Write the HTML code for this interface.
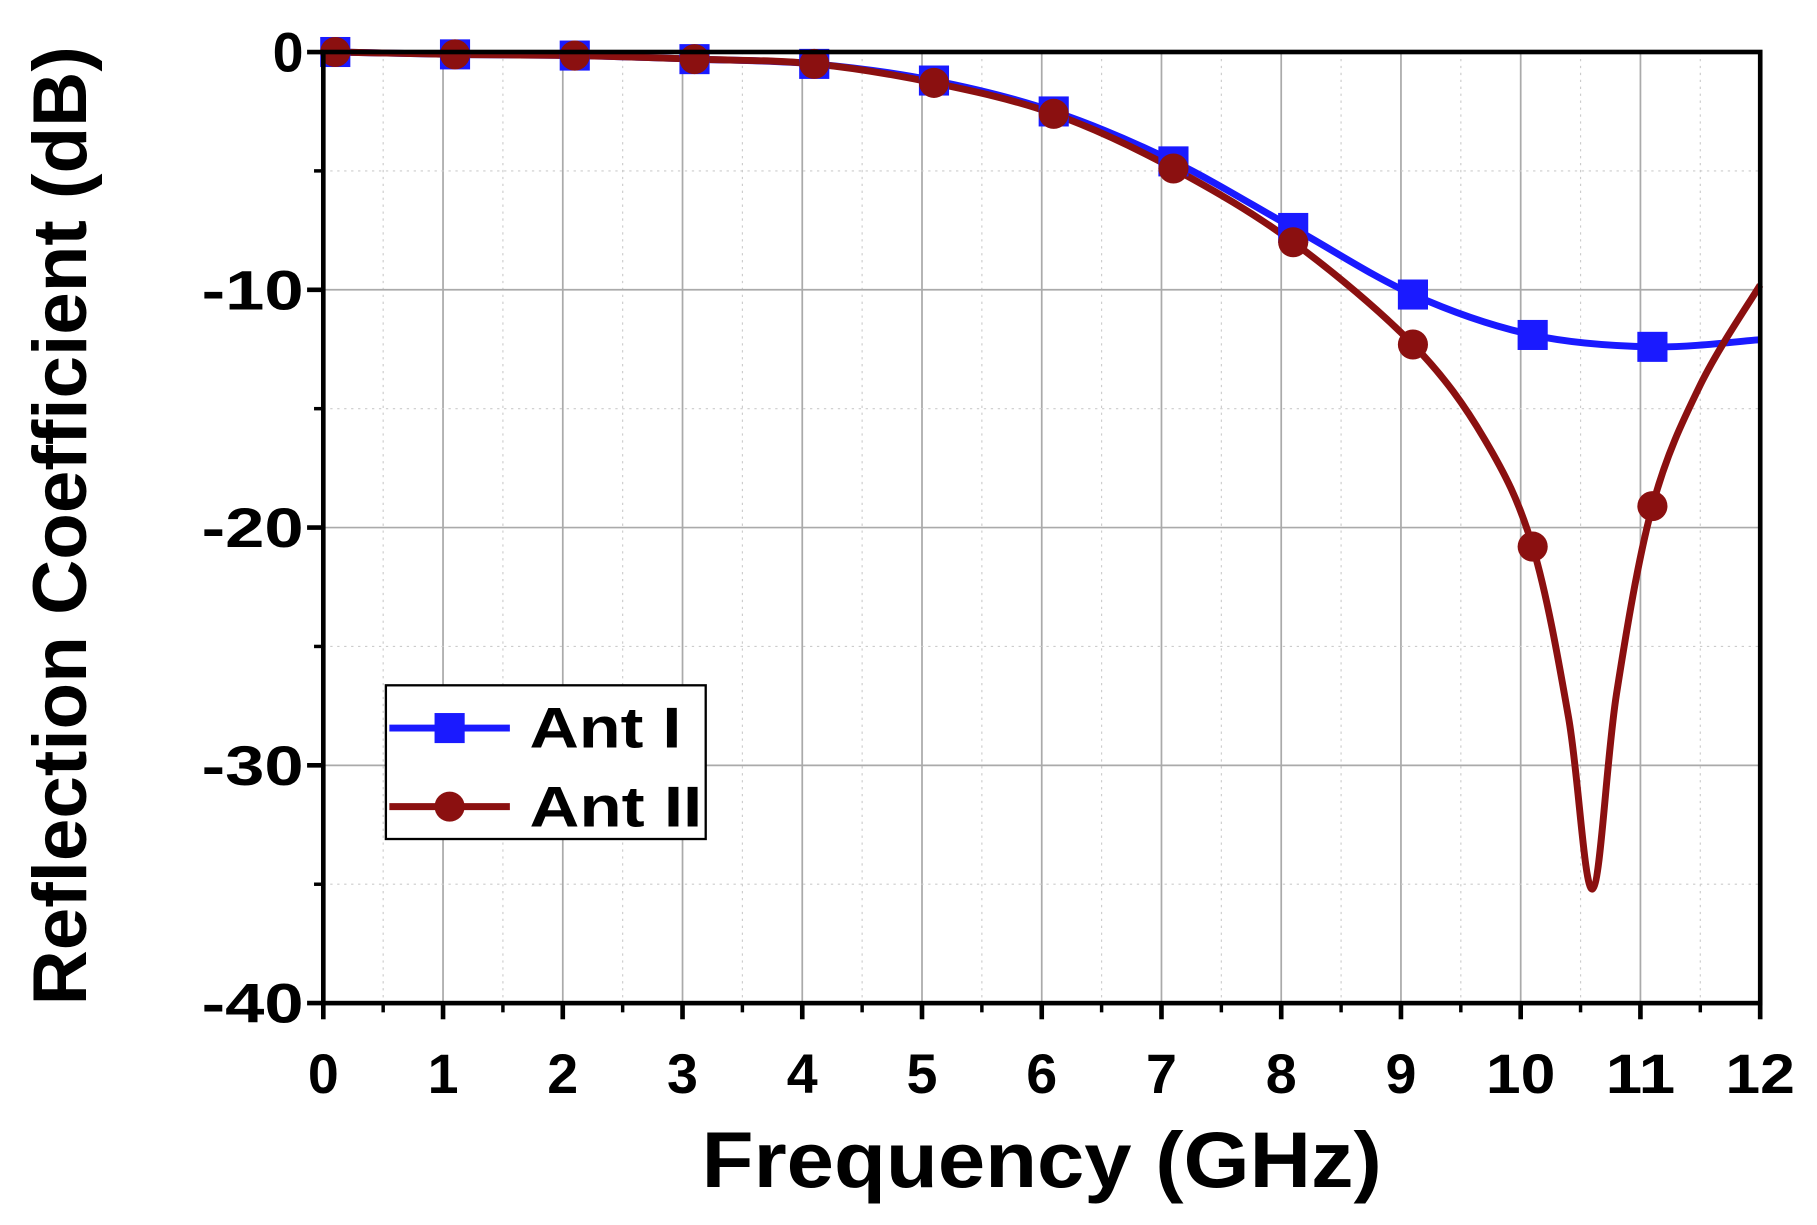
<!DOCTYPE html>
<html><head><meta charset="utf-8"><style>
html,body{margin:0;padding:0;background:#fff;overflow:hidden}
svg{display:block}
text{font-family:"Liberation Sans",Arial,sans-serif;font-weight:bold;fill:#000}
</style></head><body>
<svg id="s" width="1817" height="1225" viewBox="0 0 1568 1060" preserveAspectRatio="none" xmlns="http://www.w3.org/2000/svg">
<rect width="1568" height="1060" fill="#fff"/>
<g id="grid"></g>
<g id="series"></g>
<rect x="279" y="45" width="1240" height="823" fill="none" stroke="#000" stroke-width="4"/>
<g id="ticks"></g>
<text x="899" y="1027" font-size="68" text-anchor="middle" textLength="587" lengthAdjust="spacingAndGlyphs">Frequency (GHz)</text>
<text transform="translate(74,455) rotate(-90)" font-size="66" text-anchor="middle" textLength="830" lengthAdjust="spacingAndGlyphs">Reflection Coefficient (dB)</text>
<g>
<rect x="333" y="593" width="276" height="133" fill="#fff" stroke="#000" stroke-width="2"/>
<line x1="336" y1="630" x2="440" y2="630" stroke="#1a1aff" stroke-width="6"/>
<rect x="375" y="617" width="26" height="26" fill="#1a1aff"/>
<text x="457" y="647" font-size="50" textLength="131" lengthAdjust="spacingAndGlyphs">Ant I</text>
<line x1="336" y1="698" x2="440" y2="698" stroke="#8b1010" stroke-width="6"/>
<circle cx="388" cy="698" r="13" fill="#8b1010"/>
<text x="457" y="715" font-size="50" textLength="149" lengthAdjust="spacingAndGlyphs">Ant II</text>
</g>
</svg>
<script>
const NS="http://www.w3.org/2000/svg";
const X=f=>279+f*103.33, Y=d=>45-d*20.575;
function el(p,t,a,txt){const e=document.createElementNS(NS,t);for(const k in a)e.setAttribute(k,a[k]);if(txt!==undefined)e.textContent=txt;p.appendChild(e);return e;}
const g=document.getElementById('grid'),tk=document.getElementById('ticks'),sr=document.getElementById('series');
for(let i=1;i<12;i++)el(g,'line',{x1:X(i),x2:X(i),y1:45,y2:868,stroke:'#aaa','stroke-width':1.5});
for(let i=0;i<12;i++)el(g,'line',{x1:X(i+0.5),x2:X(i+0.5),y1:45,y2:868,stroke:'#ccc','stroke-width':1,'stroke-dasharray':'2,4'});
for(let d=-10;d>-40;d-=10)el(g,'line',{x1:279,x2:1519,y1:Y(d),y2:Y(d),stroke:'#aaa','stroke-width':1.5});
for(let d=-5;d>-40;d-=10)el(g,'line',{x1:279,x2:1519,y1:Y(d),y2:Y(d),stroke:'#ccc','stroke-width':1,'stroke-dasharray':'2,4'});
for(let i=0;i<=12;i++){el(tk,'line',{x1:X(i),x2:X(i),y1:868,y2:882,stroke:'#000','stroke-width':4});
 const a={x:X(i),y:946,'font-size':48,'text-anchor':'middle'}; if(i>=10){a.textLength=60;a.lengthAdjust='spacingAndGlyphs';}
 el(tk,'text',a,String(i));}
for(let i=0;i<12;i++)el(tk,'line',{x1:X(i+0.5),x2:X(i+0.5),y1:868,y2:876,stroke:'#000','stroke-width':3});
for(let d=0;d>=-40;d-=10){el(tk,'line',{x1:265,x2:279,y1:Y(d),y2:Y(d),stroke:'#000','stroke-width':4});
 const a={x:262,y:Y(d)+17,'font-size':48,'text-anchor':'end'}; if(d<0){a.textLength=88;a.lengthAdjust='spacingAndGlyphs';}
 el(tk,'text',a,String(d));}
for(let d=-5;d>-40;d-=10)el(tk,'line',{x1:271,x2:279,y1:Y(d),y2:Y(d),stroke:'#000','stroke-width':3});
function path(pts){const P=pts.map(p=>[X(p[0]),Y(p[1])]);let s=`M${P[0][0]},${P[0][1]}`;
for(let i=0;i<P.length-1;i++){const p0=P[i-1]||P[i],p1=P[i],p2=P[i+1],p3=P[i+2]||p2;
s+=` C${p1[0]+(p2[0]-p0[0])/6},${p1[1]+(p2[1]-p0[1])/6} ${p2[0]-(p3[0]-p1[0])/6},${p2[1]-(p3[1]-p1[1])/6} ${p2[0]},${p2[1]}`;}return s;}
const A=[[0.1,0],[1.1,-0.1],[2.1,-0.15],[3.1,-0.3],[4.1,-0.5],[5.1,-1.2],[6.1,-2.5],[7.1,-4.6],[8.1,-7.4],[9.1,-10.2],[10.1,-11.9],[11.1,-12.4],[12,-12.1]];
const B=[[0.1,0],[1.1,-0.1],[2.1,-0.15],[3.1,-0.3],[4.1,-0.5],[5.1,-1.3],[6.1,-2.6],[7.1,-4.9],[8.1,-8.0],[9.1,-12.3],[9.7,-16.3],[10.1,-20.8],[10.4,-28],[10.6,-35.2],[10.8,-27],[11.1,-19.1],[11.5,-14],[12,-9.8]];
el(sr,'path',{d:path(A),fill:'none',stroke:'#1a1aff','stroke-width':6});
el(sr,'path',{d:path(B),fill:'none',stroke:'#8b1010','stroke-width':6});
A.slice(0,12).forEach(p=>el(sr,'rect',{x:X(p[0])-13,y:Y(p[1])-13,width:26,height:26,fill:'#1a1aff'}));
const bm=[0.1,1.1,2.1,3.1,4.1,5.1,6.1,7.1,8.1,9.1,10.1,11.1];
bm.forEach(f=>{const p=B.find(q=>Math.abs(q[0]-f)<0.01);el(sr,'circle',{cx:X(p[0]),cy:Y(p[1]),r:13,fill:'#8b1010'});});
</script>
</body></html>
